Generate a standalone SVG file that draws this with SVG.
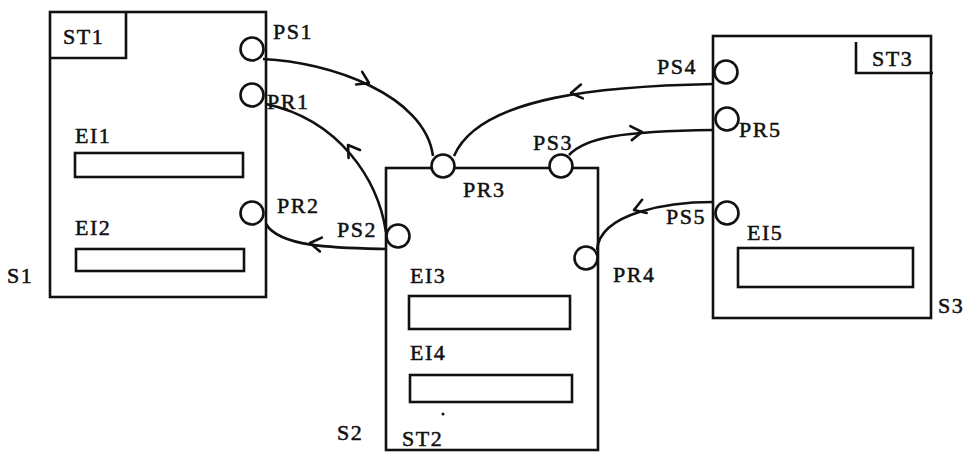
<svg xmlns="http://www.w3.org/2000/svg" xmlns:xlink="http://www.w3.org/1999/xlink" width="967" height="453" viewBox="0 0 967 453">
<style>
.box{fill:none;stroke:#111;stroke-width:2.6}
.ei{fill:none;stroke:#111;stroke-width:2.6}
.port{fill:#fff;stroke:#111;stroke-width:2.6}
.con{fill:none;stroke:#111;stroke-width:2.6}
.arr{fill:none;stroke:#111;stroke-width:2.6;stroke-linecap:round;stroke-linejoin:round}
text{font-family:"Liberation Serif","Times New Roman",serif;font-size:22px;fill:#111;stroke:#111;stroke-width:0.5;letter-spacing:1.5px}
</style>
<defs>
<path id="chev" class="arr" d="M-11,-7 L0,0 L-11,7"/>
</defs>
<rect width="967" height="453" fill="#fff"/>

<g id="connectors">
<path class="con" d="M263,59 C330,62 425,95 433,156"/>
<use xlink:href="#chev" href="#chev" transform="translate(369,83) rotate(26)"/>
<path class="con" d="M386,232 C378,180 340,120 266,104"/>
<use xlink:href="#chev" href="#chev" transform="translate(348,145) rotate(-125)"/>
<path class="con" d="M386,249 C340,248 280,248 266,224"/>
<use xlink:href="#chev" href="#chev" transform="translate(310,243) rotate(188)"/>
<path class="con" d="M713,84 C610,86 480,95 454,156"/>
<use xlink:href="#chev" href="#chev" transform="translate(571,93) rotate(172)"/>
<path class="con" d="M569,155 C585,138 620,131 713,130"/>
<use xlink:href="#chev" href="#chev" transform="translate(642,132) rotate(-6)"/>
<path class="con" d="M713,202 C670,202 600,212 597,250"/>
<use xlink:href="#chev" href="#chev" transform="translate(634,210) rotate(161)"/>
</g>

<g id="S1">
<rect class="box" x="50" y="12" width="216" height="285"/>
<path class="box" d="M50,58 H126 V12"/>
<text x="63" y="44">ST1</text>
<text x="75" y="143">EI1</text>
<rect class="ei" x="75" y="153" width="168" height="24"/>
<text x="75" y="235">EI2</text>
<rect class="ei" x="76" y="249" width="168" height="22"/>
<text x="7" y="283">S1</text>
</g>
<g id="PS1"><circle class="port" cx="252" cy="49" r="11.5"/><text x="273" y="39">PS1</text></g>
<g id="PR1"><circle class="port" cx="252" cy="95" r="11.5"/><text x="267" y="109">PR1</text></g>
<g id="PR2"><circle class="port" cx="252" cy="213" r="11.5"/><text x="277" y="213">PR2</text></g>

<g id="S2">
<rect class="box" x="386" y="168" width="212" height="282"/>
<text x="410" y="283">EI3</text>
<rect class="ei" x="409" y="296" width="161" height="33"/>
<text x="410" y="360">EI4</text>
<rect class="ei" x="410" y="375" width="162" height="27"/>
<circle cx="443" cy="414" r="1.5" fill="#111"/>
<text x="337" y="440">S2</text>
<text x="402" y="446">ST2</text>
</g>
<g id="PR3"><circle class="port" cx="443" cy="166" r="11.5"/><text x="463" y="197">PR3</text></g>
<g id="PS3"><circle class="port" cx="561" cy="166" r="11.5"/><text x="533" y="150">PS3</text></g>
<g id="PS2"><circle class="port" cx="398" cy="236" r="11.5"/><text x="337" y="237">PS2</text></g>
<g id="PR4"><circle class="port" cx="586" cy="258" r="11.5"/><text x="613" y="282">PR4</text></g>

<g id="S3">
<rect class="box" x="713" y="36" width="218" height="282"/>
<path class="box" d="M856,42 V73 H933"/>
<text x="872" y="66">ST3</text>
<text x="747" y="240">EI5</text>
<rect class="ei" x="738" y="248" width="175" height="39"/>
<text x="938" y="313">S3</text>
</g>
<g id="PS4"><circle class="port" cx="726" cy="72" r="11.5"/><text x="657" y="74">PS4</text></g>
<g id="PR5"><circle class="port" cx="727" cy="119" r="11.5"/><text x="739" y="137">PR5</text></g>
<g id="PS5"><circle class="port" cx="727" cy="213" r="11.5"/><text x="666" y="224">PS5</text></g>
</svg>
